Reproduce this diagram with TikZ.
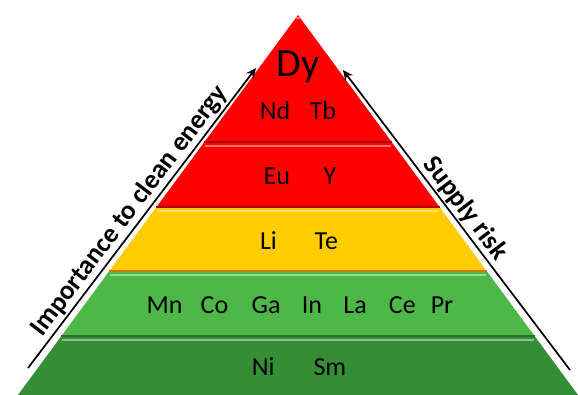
\documentclass[tikz,border=0pt]{standalone}
\usepackage{fontspec}
\setmainfont{Carlito}
\usetikzlibrary{arrows.meta}
\definecolor{PyrRed}{RGB}{255,0,0}
\definecolor{PyrRedDk}{RGB}{175,0,0}
\definecolor{PyrYellow}{RGB}{255,204,0}
\definecolor{PyrYellowDk}{RGB}{200,125,0}
\definecolor{PyrGreen}{RGB}{77,184,72}
\definecolor{PyrGreenDk}{RGB}{40,110,40}
\definecolor{PyrDeep}{RGB}{53,142,53}

% one band of the pyramid: top y, bottom y, fill, edge colour
\newcommand{\pyrband}[4]{%
  \fill[#3] ({298-0.737*(#1-15)},#1) -- ({298+0.737*(#1-15)},#1)
        -- ({298+0.737*(#2-15)},#2) -- ({298-0.737*(#2-15)},#2) -- cycle;
  \draw[#3!55!white, line width=1.2pt]
        ({298-0.737*(#1-12)+4},#1+3) -- ({298+0.737*(#1-12)-4},#1+3);
  \draw[#4, line width=1.6pt]
        ({298-0.737*(#2-16)},#2-1) -- ({298+0.737*(#2-16)},#2-1);
}

\begin{document}
\begin{tikzpicture}[x=1pt, y=-1pt,
          elem/.style={font=\fontsize{26}{30}\selectfont, anchor=base,
                       inner sep=0pt},
          side/.style={font=\fontsize{27}{32}\selectfont\bfseries,
                       inner sep=1.5pt},
          arr/.style={-{Stealth[length=10pt, width=9pt]}, line width=1.7pt,
                      draw=black}
        ]
        \useasboundingbox (0,0) rectangle (578,394);
        \clip (0,0) rectangle (578,394);

        % bands, top to bottom
        \pyrband{15}{143}{PyrRed}{PyrRedDk}
        \pyrband{143}{208}{PyrRed}{PyrRedDk}
        \pyrband{208}{272}{PyrYellow}{PyrYellowDk}
        \pyrband{272}{337}{PyrGreen}{PyrGreenDk}
        \pyrband{337}{420}{PyrDeep}{PyrGreenDk}

        % elements
        \node[elem, font=\fontsize{40}{46}\selectfont] (dy) at (298,76) {Dy};
        \node[elem] (ndtb) at (298,119) {Nd\hspace{0.75em}Tb};
        \node[elem] (euy)  at (300,184) {Eu\hspace{1.3em}Y};
        \node[elem] (lite) at (299,249) {Li\hspace{1.45em}Te};
        \node[elem] (mnpr) at (300,313)
              {Mn\hspace{0.7em}Co\hspace{0.9em}Ga\hspace{0.82em}In%
               \hspace{0.82em}La\hspace{0.85em}Ce\hspace{0.58em}Pr};
        \node[elem] (nism) at (299,375) {Ni\hspace{1.5em}Sm};

        % axes along the sides
        \coordinate (imp0) at (28,368);
        \coordinate (imp1) at (256,68);
        \coordinate (risk0) at (570,370);
        \coordinate (risk1) at (343,70);
        \draw[arr] (imp0) -- (imp1)
              node[side, pos=0.495, sloped, above] (implab)
              {Importance to clean energy};
        \draw[arr] (risk0) -- (risk1)
              node[side, pos=0.51, sloped, above] (risklab) {Supply risk};
      \end{tikzpicture}
\end{document}
